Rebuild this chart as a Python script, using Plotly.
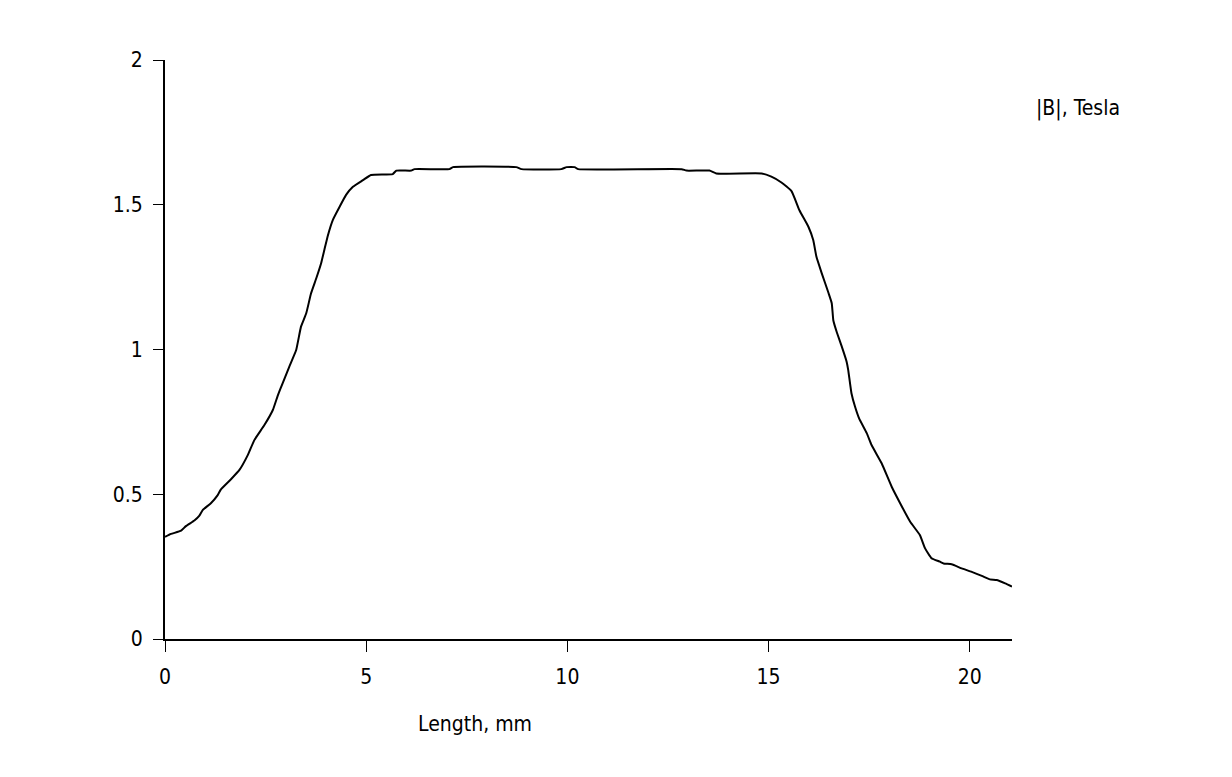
import plotly.graph_objects as go

length_mm = [0.0, 0.15, 0.40, 0.52, 0.73, 0.85, 0.94, 1.14, 1.31, 1.39, 1.64, 1.85, 2.06, 2.22, 2.47,
             2.68, 2.80, 2.89, 3.09, 3.26, 3.38, 3.51, 3.63, 3.76, 3.88, 3.96, 4.05, 4.17, 4.34, 4.50,
             4.67, 4.92, 5.12, 5.66, 5.75, 6.12, 6.2, 7.07, 7.16, 8.73, 8.86, 9.85, 9.98, 10.18, 10.27,
             12.84, 12.96, 13.53, 13.7, 14.83, 15.07, 15.32, 15.57, 15.77, 15.99, 16.11, 16.19, 16.32,
             16.49, 16.57, 16.61, 16.69, 16.82, 16.94, 16.98, 17.06, 17.15, 17.25, 17.44, 17.56, 17.81,
             18.06, 18.27, 18.52, 18.76, 18.89, 19.05, 19.26, 19.35, 19.55, 19.8, 20.05, 20.3, 20.5,
             20.67, 20.88, 21.05]
b_tesla = [0.353, 0.363, 0.374, 0.390, 0.409, 0.425, 0.446, 0.469, 0.497, 0.517, 0.552, 0.584, 0.636,
           0.687, 0.739, 0.791, 0.840, 0.872, 0.941, 0.998, 1.079, 1.125, 1.194, 1.246, 1.298, 1.344,
           1.395, 1.447, 1.493, 1.534, 1.562, 1.585, 1.603, 1.606, 1.618, 1.618, 1.623, 1.623, 1.630,
           1.630, 1.623, 1.623, 1.630, 1.630, 1.623, 1.623, 1.618, 1.618, 1.608, 1.608, 1.597, 1.577,
           1.547, 1.480, 1.424, 1.378, 1.320, 1.264, 1.195, 1.160, 1.100, 1.062, 1.010, 0.958, 0.929,
           0.849, 0.802, 0.762, 0.711, 0.670, 0.607, 0.526, 0.469, 0.405, 0.359, 0.313, 0.279, 0.267,
           0.261, 0.258, 0.244, 0.232, 0.218, 0.206, 0.204, 0.192, 0.181]

x_ticks = [0, 5, 10, 15, 20]
y_ticks = [0, 0.5, 1, 1.5, 2]
y_tick_labels = ["0", "0.5", "1", "1.5", "2"]

font_family = "DejaVu Sans Condensed"
font_size = 21

fig = go.Figure()
fig.add_trace(go.Scatter(x=length_mm, y=b_tesla, mode="lines",
                         line=dict(color="black", width=2, shape="spline", smoothing=0.4),
                         showlegend=False))

fig.update_layout(
    width=1232, height=777,
    margin=dict(l=157, r=228, t=52, b=146),
    paper_bgcolor="white", plot_bgcolor="white",
    font=dict(family=font_family, size=font_size, color="black"),
    xaxis=dict(range=[0, 21.05], tickvals=x_ticks, ticks="outside", ticklen=11, tickwidth=1,
               tickcolor="black", showline=True, linecolor="black", linewidth=2,
               showgrid=False, zeroline=False, tickfont=dict(size=font_size),
               ticklabelstandoff=7),
    yaxis=dict(range=[0, 2], tickvals=y_ticks, ticktext=y_tick_labels, ticks="outside",
               ticklen=10, tickwidth=1, tickcolor="black", showline=True, linecolor="black",
               linewidth=2, showgrid=False, zeroline=False, tickfont=dict(size=font_size),
               ticklabelstandoff=6),
    annotations=[
        dict(text="|B|, Tesla", xref="paper", yref="paper", x=1.078, y=0.917,
             showarrow=False, font=dict(size=font_size), xanchor="center", yanchor="middle"),
        dict(text="Length, mm", xref="paper", yref="paper", x=0.366, y=-0.146,
             showarrow=False, font=dict(size=font_size), xanchor="center", yanchor="middle"),
    ],
)

fig.write_html("out.html")
